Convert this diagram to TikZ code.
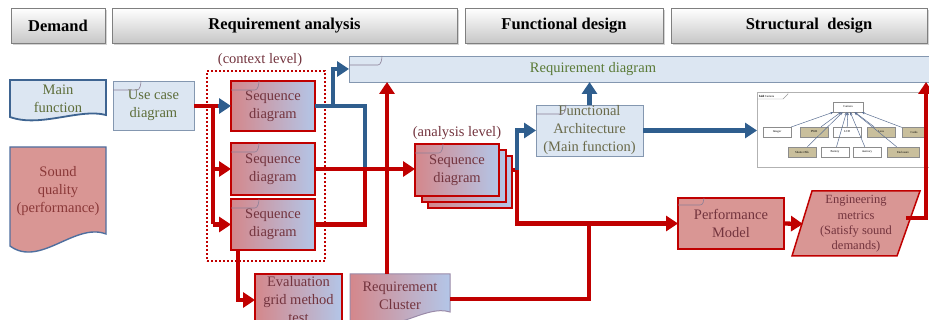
\documentclass[tikz,border=0pt]{standalone}
\usepackage{fontspec}
\setmainfont{Liberation Serif}
\usetikzlibrary{arrows.meta,shadows,calc}

\definecolor{redline}{HTML}{C00000}
\definecolor{blueline}{HTML}{2F5E8E}
\definecolor{lbfill}{HTML}{DCE6F2}
\definecolor{lbborder}{HTML}{8497B0}
\definecolor{mfborder}{HTML}{3E6491}
\definecolor{sqborder}{HTML}{4F6F9F}
\definecolor{pinkfill}{HTML}{D99694}
\definecolor{seqleft}{HTML}{D4878B}
\definecolor{seqright}{HTML}{B3C6E8}
\definecolor{olivetext}{HTML}{5E6E3A}
\definecolor{rdtext}{HTML}{5A7A36}
\definecolor{fatext}{HTML}{6A6A4A}
\definecolor{redtext}{HTML}{73343E}
\definecolor{sqtext}{HTML}{8A3838}
\definecolor{headborder}{HTML}{7F7F7F}
\definecolor{tanfill}{HTML}{C9BF9C}
\definecolor{tabline}{HTML}{8C7F96}
\definecolor{classline}{HTML}{5B6F92}
\definecolor{rcborder}{HTML}{9A8AA8}

\tikzset{
  header/.style={draw=headborder, line width=0.9pt, top color=white, bottom color=black!22,
    minimum height=35pt, inner sep=0pt, outer sep=0pt, anchor=north west,
    font=\fontsize{16.5}{19}\selectfont\bfseries,
    drop shadow={shadow xshift=1.6pt, shadow yshift=-1.6pt, opacity=0.35}},
  basebox/.style={inner sep=0pt, outer sep=0pt, anchor=north west, align=center,
    font=\fontsize{14.5}{18}\selectfont},
  bluebox/.style={basebox, draw=lbborder, line width=0.9pt, fill=lbfill, text=olivetext},
  seqbox/.style={basebox, draw=redline, line width=1.5pt, left color=seqleft, right color=seqright, text=redtext},
  pinkbox/.style={basebox, draw=redline, line width=1.5pt, fill=pinkfill, text=redtext},
  tabmk/.style={draw=tabline, line width=0.6pt},
  redlink/.style={draw=redline, line width=4.3pt},
  bluelink/.style={draw=blueline, line width=4.3pt},
  redarrow/.style={redlink, -{Triangle[length=12pt,width=15pt]}},
  bluearrow/.style={bluelink, -{Triangle[length=12pt,width=15pt]}},
  plaintext/.style={font=\fontsize{14.5}{18}\selectfont, inner sep=0pt, align=center},
  cls/.style={draw=black!45, line width=0.4pt, fill=white, minimum width=28pt, minimum height=10pt, inner sep=0pt, font=\fontsize{3}{3.5}\selectfont},
  clstan/.style={cls, fill=tanfill},
  clsarrow/.style={draw=classline, line width=0.5pt, -{Stealth[length=3pt,width=2.5pt]}},
}
\newcommand\tabmark[3]{\draw[tabmk] ($(#1.north west)+(0,#3)$) -- ++(#2,0) .. controls +(3,0) and +(0,3) .. ++(4,-#3);}

\begin{document}
\begin{tikzpicture}[x=1pt, y=-1pt]
\useasboundingbox (0,0) rectangle (929,320);
\clip (0,0) rectangle (929,320);

% headers
\node[header, minimum width=94pt] (hd) at (11,8) {Demand};
\node[header, minimum width=345pt] (hr) at (112,8) {Requirement analysis};
\node[header, minimum width=198pt] (hf) at (465,8) {Functional design};
\node[header, minimum width=256pt] (hs) at (671,8) {\hspace*{20pt}Structural\ \ design};

% demand column
\path[fill=lbfill, draw=mfborder, line width=1.8pt] (10,80) -- (106,80) -- (106,115) .. controls (80,108) and (40,128) .. (10,117) -- cycle;
\node[plaintext, text=olivetext] (mf) at (58,99) {Main\\function};
\path[fill=pinkfill, draw=sqborder, line width=1.4pt] (10,147) -- (106,147) -- (106,234) .. controls (75,222) and (40,268) .. (10,246) -- cycle;
\node[plaintext, text=sqtext] (sq) at (58,191) {Sound\\quality\\(performance)};

% use case
\node[bluebox, minimum width=81pt, minimum height=49pt] (uc) at (113,81) {Use case\\diagram};
\tabmark{uc}{24}{9}

% context level
\node[draw=redline, line width=2.2pt, dash pattern=on 2pt off 2pt, minimum width=118pt, minimum height=190pt, anchor=north west, inner sep=0pt] (ctx) at (206,70) {};
\node[plaintext, text=redtext] (ctxl) at (260,60) {(context level)};
\node[seqbox, minimum width=84pt, minimum height=50pt] (s1) at (231,81) {Sequence\\diagram};
\node[seqbox, minimum width=84pt, minimum height=52pt] (s2) at (231,143) {Sequence\\diagram};
\node[seqbox, minimum width=84pt, minimum height=51pt] (s3) at (231,199) {Sequence\\diagram};
\tabmark{s1}{24}{9}
\tabmark{s2}{24}{9}
\tabmark{s3}{24}{9}

% requirement diagram
\node[bluebox, minimum width=590pt, minimum height=26pt] (rd) at (349,56) {};
\tabmark{rd}{29}{9}
\node[plaintext, text=rdtext] (rdt) at (593,69) {Requirement diagram};

% analysis level
\node[seqbox, minimum width=84pt, minimum height=52pt] (a3) at (428,156) {};
\node[seqbox, minimum width=84pt, minimum height=52pt] (a2) at (422,150) {};
\node[seqbox, minimum width=84pt, minimum height=52pt] (a1) at (415,144) {Sequence\\diagram};
\tabmark{a1}{24}{9}
\node[plaintext, text=redtext] (al) at (457,133) {(analysis level)};

% functional architecture
\node[bluebox, minimum width=107pt, minimum height=51pt, text=fatext] (fa) at (536,105) {Functional\\Architecture\\(Main function)};
\tabmark{fa}{26}{9}

% class diagram
\node[draw=black!30, line width=0.6pt, fill=white, minimum width=180pt, minimum height=75pt, anchor=north west, inner sep=0pt] (cd) at (757,92) {};
\draw[draw=black!40, line width=0.4pt] (757,99) -- (783,99) -- (788,94) -- (788,92);
\node[font=\fontsize{3}{3.5}\selectfont, anchor=west, inner sep=0pt] (cdt) at (759,96) {\textbf{bdd} Camera};
\node[cls, minimum width=30pt] (cam) at (848,107) {Camera};
\node[cls] (c1) at (777,132) {Imager};
\node[clstan] (c2) at (814,132) {PWR};
\node[cls] (c3) at (847,132) {LCD};
\node[clstan] (c4) at (881,132) {Lens};
\node[clstan, minimum width=24pt] (c5) at (914,132) {Cards};
\node[clstan] (c6) at (802,152) {Shutter Blk};
\node[cls] (c7) at (835,152) {Battery};
\node[cls] (c8) at (867,152) {memory};
\node[clstan, minimum width=32pt] (c9) at (903,152) {Enclosure};
\foreach \cn in {c1,c2,c3,c4,c5,c6,c7,c8,c9} \draw[clsarrow] (\cn) -- (cam);

% performance model and metrics
\node[pinkbox, minimum width=106pt, minimum height=51pt] (pm) at (678,198) {Performance\\Model};
\tabmark{pm}{22}{7}
\path[fill=pinkfill, draw=redline, line width=1.5pt] (812,191) -- (920,191) -- (897,256) -- (792,256) -- cycle;
\node[font=\fontsize{12.5}{15.3}\selectfont, text=redtext, align=center, inner sep=0pt] (em) at (856,224) {Engineering\\metrics\\(Satisfy sound\\demands)};

% bottom boxes
\node[seqbox, minimum width=87pt, minimum height=52pt] (ev) at (255,274) {Evaluation\\grid method\\test};
\path[left color=seqleft, right color=seqright, draw=rcborder, line width=1pt] (350,274) -- (450,274) -- (450,312) .. controls (425,304) and (395,335) .. (350,326) -- cycle;
\node[plaintext, text=redtext] (rc) at (400,296) {Requirement\\Cluster};

% coordinates
\coordinate (j1) at (213,106);
\coordinate (j1b) at (218,106);
\coordinate (m1) at (365,169);
\coordinate (b1) at (333,106);
\coordinate (m2) at (517,170);
\coordinate (m3) at (589,224);
\coordinate (j3) at (238,250);
\coordinate (rcn) at (387,274);
\coordinate (rce) at (450,299);
\coordinate (emw) at (803,224);
\coordinate (eme) at (906,218);
\coordinate (rdr) at (926,82);

% connectors
\draw[redlink] (uc.east |- j1) -- (j1b);
\draw[redlink] (j1) -- (j1 |- s3.west);
\draw[bluearrow] (j1b) -- (s1.west);
\draw[redarrow] (j1 |- s2.west) -- (s2.west);
\draw[redarrow] (j1 |- s3.west) -- (s3.west);
\draw[bluelink] (s1.east) -| (m1);
\draw[bluearrow] (b1) |- (rd.west);
\draw[redlink] (s3.east) -| (m1);
\draw[redarrow] (s2.east) -- (s2.east -| a1.west);
\draw[redarrow] (rcn) -- (rcn |- rd.south);
\draw[redarrow] (j3) |- (ev.west);
\draw[redarrow] (m2 -| a3.east) -- (m2) |- (pm.west);
\draw[bluearrow] (m2) |- (fa.west);
\draw[redlink] (rce) -| (m3);
\draw[bluearrow] (fa.north) -- (fa.north |- rd.south);
\draw[bluearrow] (fa.east) -- (fa.east -| cd.west);
\draw[redarrow] (pm.east) -- (emw);
\draw[redarrow] (eme) -| (rdr);
\end{tikzpicture}
\end{document}
